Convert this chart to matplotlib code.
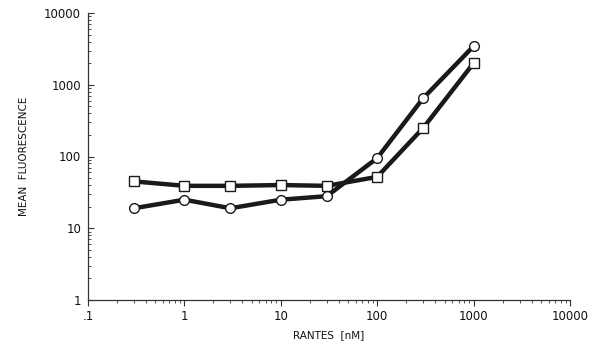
import matplotlib
matplotlib.use("Agg")
import matplotlib.pyplot as plt
from matplotlib.ticker import FixedLocator, FixedFormatter, LogLocator, NullFormatter

conc = [0.3, 1, 3, 10, 30, 100, 300, 1000]
square_vals = [45, 39, 39, 40, 39, 52, 250, 2000]
circle_vals = [19, 25, 19, 25, 28, 95, 650, 3450]

x_ticks = [0.1, 1, 10, 100, 1000, 10000]
x_labels = [".1", "1", "10", "100", "1000", "10000"]
y_ticks = [1, 10, 100, 1000, 10000]
y_labels = ["1", "10", "100", "1000", "10000"]

fig = plt.figure(figsize=(5.97, 3.49), dpi=100)
ax = fig.add_axes([88/597, 1-300/349, (570-88)/597, (300-13)/349])

ax.plot(conc, square_vals, color="#1a1a1a", lw=3.2, marker="s", ms=6.5,
        mfc="white", mec="#1a1a1a", mew=1.0, zorder=3)
ax.plot(conc, circle_vals, color="#1a1a1a", lw=3.2, marker="o", ms=7,
        mfc="white", mec="#1a1a1a", mew=1.0, zorder=4)

ax.set_xscale("log")
ax.set_yscale("log")
ax.set_xlim(0.1, 10000)
ax.set_ylim(1, 10000)

ax.xaxis.set_major_locator(FixedLocator(x_ticks))
ax.xaxis.set_major_formatter(FixedFormatter(x_labels))
ax.yaxis.set_major_locator(FixedLocator(y_ticks))
ax.yaxis.set_major_formatter(FixedFormatter(y_labels))
ax.xaxis.set_minor_locator(LogLocator(base=10, subs=range(2, 10)))
ax.yaxis.set_minor_locator(LogLocator(base=10, subs=range(2, 10)))
ax.xaxis.set_minor_formatter(NullFormatter())
ax.yaxis.set_minor_formatter(NullFormatter())

for s in ["top", "right"]:
    ax.spines[s].set_visible(False)
for s in ["left", "bottom"]:
    ax.spines[s].set_linewidth(0.9)
    ax.spines[s].set_color("#333333")

ax.tick_params(which="major", length=4, width=0.8, colors="#333333",
               labelsize=8.5, labelcolor="#111111", pad=3)
ax.tick_params(which="minor", length=2, width=0.6, colors="#333333")
ax.tick_params(axis="x", which="both", direction="out")
ax.tick_params(axis="y", which="both", direction="in")
ax.tick_params(axis="y", which="major", pad=5)

ax.set_xlabel("RANTES  [nM]", fontsize=7.5, labelpad=5, color="#111111")
ax.set_ylabel("MEAN  FLUORESCENCE", fontsize=7.5, labelpad=11, color="#111111")

fig.savefig("out.png", dpi=100)
